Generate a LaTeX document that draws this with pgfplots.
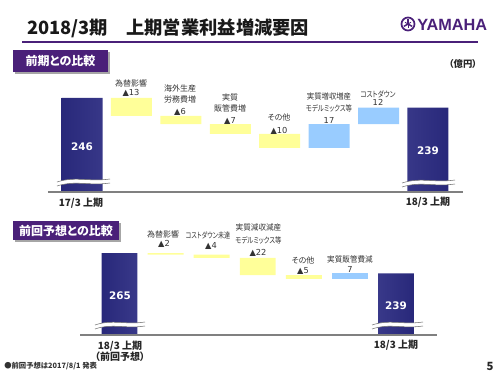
\documentclass[border=0pt]{standalone}
\usepackage{pgfplots}
\pgfplotsset{compat=1.18}
\usepackage{fontspec}
\setmainfont[CharacterWidth=AlternateProportional]{Noto Sans CJK JP}
\newfontfamily\numfont{DejaVu Sans}
\newfontfamily\logofont{Liberation Sans}
\definecolor{ypurple}{HTML}{4A2079}
\definecolor{navyD}{HTML}{28287A}
\definecolor{navyL}{HTML}{7070BC}
\definecolor{yel}{HTML}{FFFF99}
\definecolor{lblue}{HTML}{99CCFF}
\definecolor{txt}{HTML}{333333}
\definecolor{basegray}{HTML}{808080}
\tikzset{
 lab/.style={font=\fontsize{6}{7}\selectfont, text=txt, inner sep=0pt},
 nar/.style={xscale=#1, transform shape},
 val/.style={font=\numfont\fontsize{6.2}{7}\selectfont, text=txt, inner sep=0pt},
 tot/.style={font=\numfont\bfseries\fontsize{7.8}{9}\selectfont, text=white, inner sep=0pt},
 xl/.style={font=\bfseries\fontsize{7.5}{9}\selectfont, text=black!85, inner sep=0pt},
}
\newcommand\brk[3]{%
  \fill[white] (#1,{#3+1}) .. controls ({#1+(#2-#1)*0.35},{#3-5}) and ({#1+(#2-#1)*0.6},{#3+1}) .. (#2,{#3-2})
     -- (#2,{#3+2}) .. controls ({#1+(#2-#1)*0.6},{#3+5}) and ({#1+(#2-#1)*0.35},{#3-1}) .. (#1,{#3+5}) -- cycle;
  \draw[black!55, line width=0.4pt] (#1,{#3+1}) .. controls ({#1+(#2-#1)*0.35},{#3-5}) and ({#1+(#2-#1)*0.6},{#3+1}) .. (#2,{#3-2});
  \draw[black!55, line width=0.4pt] (#1,{#3+5}) .. controls ({#1+(#2-#1)*0.35},{#3-1}) and ({#1+(#2-#1)*0.6},{#3+5}) .. (#2,{#3+2});
}
\begin{document}
\begin{tikzpicture}[x=0.75pt,y=-0.75pt]
\path[use as bounding box] (0,0) rectangle (500,375);
% ---------- header ----------
\node[anchor=west, inner sep=0pt, font=\bfseries\fontsize{13.7}{16}\selectfont, text=black!90] at (27,28) {2018/3期　上期営業利益増減要因};
\draw[ypurple, line width=1.4pt] (22,42) -- (478,42);
\draw[ypurple, line width=1.3pt] (408,24) circle[radius=6.5];
\foreach \a in {90,210,330} {\draw[ypurple, line width=1.1pt] (408,24) -- ++({4.8*cos(\a)},{-4.8*sin(\a)});}
\foreach \a in {30,150,270} {\draw[ypurple, line width=0.6pt] (408,24) -- ++({3.5*cos(\a)},{-3.5*sin(\a)});}
\fill[ypurple] (408,24) circle[radius=1.4];
\node[anchor=west, inner sep=0pt, font=\logofont\bfseries\fontsize{12.2}{14}\selectfont, text=ypurple] at (417,24.5) {YAMAHA};
% ---------- chart 1 ----------
\fill[black!35] (15,52) rectangle (110,74);
\fill[ypurple] (13,50) rectangle (108,72);
\node[font=\bfseries\fontsize{9}{10}\selectfont, text=white] at (60.5,61) {前期との比較};
\node[font=\bfseries\fontsize{7}{8}\selectfont, text=black!85] at (463,64) {（億円）};
\begin{axis}[at={(36pt,-144pt)}, anchor=south west, scale only axis,
  width=311.25pt, height=84pt, xmin=-0.69, xmax=7.71, ymin=178, ymax=259,
  hide axis, ybar stacked, bar width=0.83]
\addplot[draw=none, fill=none] coordinates {(0,0) (1,233) (2,227) (3,220) (4,210) (5,210) (6,227) (7,0)};
\addplot[draw=none, fill=yel] coordinates {(0,0) (1,13) (2,6) (3,7) (4,10) (5,0) (6,0) (7,0)};
\addplot[draw=none, fill=lblue] coordinates {(0,0) (1,0) (2,0) (3,0) (4,0) (5,17) (6,12) (7,0)};
\end{axis}
\begin{axis}[at={(36pt,-144pt)}, anchor=south west, scale only axis,
  width=311.25pt, height=84pt, xmin=-0.69, xmax=7.71, ymin=178, ymax=259,
  axis x line=bottom, axis y line=none, axis on top,
  x axis line style={-, basegray, line width=0.8pt},
  xtick=\empty, ytick=\empty, ybar, bar width=0.83]
\addplot[draw=none, left color=navyD, right color=navyD, middle color=navyL] coordinates {(0,246) (7,239)};
\end{axis}
\brk{57}{110}{181}
\brk{402}{455}{182}
\node[tot] at (82,147) {246};
\node[tot] at (428,151) {239};
\node[xl] at (81,203) {17/3 上期};
\node[xl] at (428,202) {18/3 上期};
\node[lab] at (131,83) {為替影響};
\node[val] at (131,93) {▲13};
\node[lab] at (180,88) {海外生産};
\node[lab] at (180,99) {労務費増};
\node[val] at (180,112) {▲6};
\node[lab] at (230,97) {実質};
\node[lab] at (230,108) {販管費増};
\node[val] at (230,121) {▲7};
\node[lab] at (279,117) {その他};
\node[val] at (279,131) {▲10};
\node[lab, nar=0.92] at (329,96) {実質増収増産};
\node[lab, nar=0.8] at (329,108) {モデルミックス等};
\node[val] at (329,120) {17};
\node[lab, nar=0.82] at (378,94) {コストダウン};
\node[val] at (378,102.5) {12};
% ---------- chart 2 ----------
\fill[black!35] (15,223) rectangle (121,242);
\fill[ypurple] (13,221) rectangle (119,240);
\node[font=\bfseries\fontsize{9}{10}\selectfont, text=white] at (66,230.5) {前回予想との比較};
\begin{axis}[at={(60pt,-251.25pt)}, anchor=south west, scale only axis,
  width=267.75pt, height=90pt, xmin=-0.857, xmax=6.89, ymin=160, ymax=314,
  hide axis, ybar stacked, bar width=0.78]
\addplot[draw=none, fill=none] coordinates {(0,0) (1,263) (2,259) (3,237) (4,232) (5,232) (6,0)};
\addplot[draw=none, fill=yel] coordinates {(0,0) (1,2) (2,4) (3,22) (4,5) (5,0) (6,0)};
\addplot[draw=none, fill=lblue] coordinates {(0,0) (1,0) (2,0) (3,0) (4,0) (5,7) (6,0)};
\end{axis}
\begin{axis}[at={(60pt,-251.25pt)}, anchor=south west, scale only axis,
  width=267.75pt, height=90pt, xmin=-0.857, xmax=6.89, ymin=160, ymax=314,
  axis x line=bottom, axis y line=none, axis on top,
  x axis line style={-, basegray, line width=0.8pt},
  xtick=\empty, ytick=\empty, ybar, bar width=0.78]
\addplot[draw=none, left color=navyD, right color=navyD, middle color=navyL] coordinates {(0,265) (6,239)};
\end{axis}
\brk{95}{145}{324}
\brk{372}{423}{324}
\node[tot] at (120,296) {265};
\node[tot] at (396,306) {239};
\node[xl] at (120,346) {18/3 上期};
\node[xl] at (120,357) {（前回予想）};
\node[xl] at (396,345) {18/3 上期};
\node[lab] at (163,234) {為替影響};
\node[val] at (164,244) {▲2};
\node[lab, nar=0.76] at (208,235) {コストダウン未達};
\node[val] at (211,246) {▲4};
\node[lab, nar=0.95] at (258.5,227) {実質減収減産};
\node[lab, nar=0.8] at (258.5,240) {モデルミックス等};
\node[val] at (258,252.5) {▲22};
\node[lab] at (303,260) {その他};
\node[val] at (303,271) {▲5};
\node[lab, nar=0.95] at (350,259) {実質販管費減};
\node[val] at (350,269) {7};
% ---------- footer ----------
\node[anchor=west, inner sep=0pt, font=\bfseries\fontsize{5.5}{6}\selectfont, text=black!80] at (4,366) {●前回予想は2017/8/1 発表};
\node[font=\bfseries\fontsize{8.5}{10}\selectfont, text=black!85] at (490,366) {5};
\end{tikzpicture}
\end{document}
